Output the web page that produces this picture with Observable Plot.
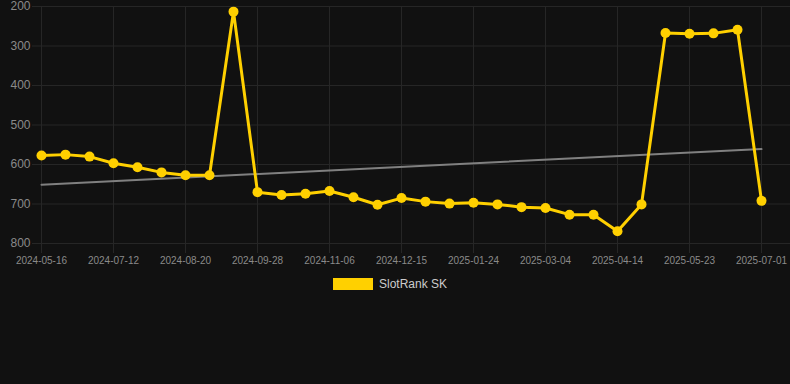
<!DOCTYPE html>
<html>
<head>
<meta charset="utf-8">
<script src="https://cdn.jsdelivr.net/npm/d3@7"></script>
<script src="https://cdn.jsdelivr.net/npm/@observablehq/plot@0.6"></script>
<style>
  html, body { margin: 0; padding: 0; background: #111111; width: 790px; height: 384px; overflow: hidden; }
  #chart svg { display: block; }
  .legend { position: absolute; left: 333px; top: 278px; height: 12px; display: flex; align-items: center; font-family: Arial, "Liberation Sans", sans-serif; font-size: 12px; color: #cccccc; }
  .legend .sw { width: 40px; height: 12px; background: #ffd000; margin-right: 6px; }
</style>
</head>
<body>
<div id="chart"></div>
<div class="legend"><div class="sw"></div><div class="lb">SlotRank SK</div></div>
<script>
const dates = ["2024-05-16","2024-06-04","2024-06-23","2024-07-12","2024-07-25","2024-08-07","2024-08-20","2024-09-02","2024-09-15","2024-09-28","2024-10-11","2024-10-24","2024-11-06","2024-11-19","2024-12-02","2024-12-15","2024-12-28","2025-01-10","2025-01-24","2025-02-06","2025-02-19","2025-03-04","2025-03-18","2025-03-31","2025-04-14","2025-04-27","2025-05-10","2025-05-23","2025-06-05","2025-06-18","2025-07-01"];
const ranks = [577,575,580,597,607,620,627,627,213,670,677,674,667,683,702,685,694,699,697,701,708,710,727,727,769,701,267,269,268,259,692];
const tickLabels = ["2024-05-16","2024-07-12","2024-08-20","2024-09-28","2024-11-06","2024-12-15","2025-01-24","2025-03-04","2025-04-14","2025-05-23","2025-07-01"];
const yTicks = [200,300,400,500,600,700,800];
const trendDates = ["2024-05-16","2025-07-01"];
const trendValues = [651,561];

const data = dates.map((d, i) => ({date: d, rank: ranks[i]}));
const trend = trendDates.map((d, i) => ({date: d, rank: trendValues[i]}));

const gridColor = "#262626";
const chart = Plot.plot({
  width: 790,
  height: 270,
  marginTop: 6,
  marginBottom: 27,
  marginLeft: 32,
  marginRight: 0,
  style: {background: "#111111", fontFamily: "Arial, 'Liberation Sans', sans-serif"},
  x: {type: "point", domain: dates, range: [40, 761], padding: 0},
  y: {domain: [200, 800], reverse: true},
  marks: [
    Plot.gridY(yTicks, {stroke: gridColor, strokeOpacity: 1}),
    Plot.gridX(tickLabels, {stroke: gridColor, strokeOpacity: 1}),
    Plot.axisX(tickLabels, {tickSize: 10, stroke: gridColor, tickPadding: 3, fill: "#8a8a8a", fontSize: 10, label: null}),
    Plot.axisY(yTicks, {tickSize: 0, tickPadding: 2, fill: "#8a8a8a", fontSize: 12, label: null}),
    Plot.line(trend, {x: "date", y: "rank", stroke: "#808080", strokeWidth: 2}),
    Plot.line(data, {x: "date", y: "rank", stroke: "#ffd000", strokeWidth: 3}),
    Plot.dot(data, {x: "date", y: "rank", r: 5, fill: "#ffd000", stroke: "none"})
  ]
});
document.getElementById("chart").appendChild(chart);
</script>
</body>
</html>
